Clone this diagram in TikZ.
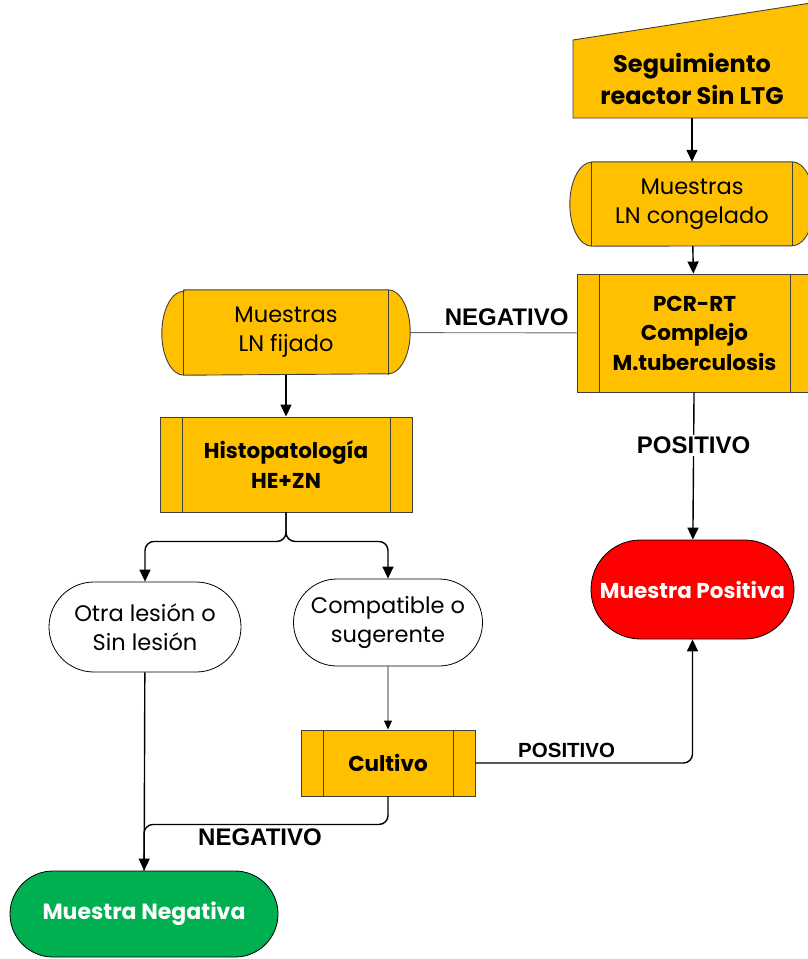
\documentclass[tikz,border=0pt]{standalone}
\usepackage{fontspec}
\setmainfont{Poppins}
\newfontfamily\lblfont{Liberation Sans}
\usetikzlibrary{arrows.meta,shapes.misc,backgrounds}
\definecolor{amber}{HTML}{FFC000}
\definecolor{edge}{HTML}{404040}
\definecolor{posred}{HTML}{FF0000}
\definecolor{neggreen}{HTML}{00B050}
\tikzset{
  procbox/.style={rectangle,draw=edge,fill=amber,line width=0.9pt,align=center,inner sep=0pt,
    font=\bfseries\fontsize{21.5}{29.5}\selectfont,
    path picture={
      \draw[edge,line width=0.9pt]
        ([xshift=22pt]path picture bounding box.north west) -- ([xshift=22pt]path picture bounding box.south west)
        ([xshift=-22pt]path picture bounding box.north east) -- ([xshift=-22pt]path picture bounding box.south east);}},
  drumbox/.style={rectangle,align=center,inner sep=0pt,font=\fontsize{22.5}{29}\selectfont},
  inbox/.style={rectangle,align=center,inner sep=0pt,minimum width=238pt,minimum height=78pt,
    font=\bfseries\fontsize{24}{32}\selectfont},
  endbox/.style={rounded rectangle,draw=black,line width=0.8pt,align=center,inner sep=0pt,
    font=\fontsize{22.5}{29}\selectfont},
  flow/.style={-{Triangle[length=12pt,width=11pt]},line width=1.4pt},
  lbl/.style={font=\lblfont\bfseries\fontsize{24}{26}\selectfont,inner sep=2pt,text=black},
}
\newcommand\drum[1]{%
  \draw[edge,fill=amber,line width=0.9pt]
    ([xshift=22pt]#1.north west) -- ([xshift=-22pt]#1.north east)
    arc[start angle=90,end angle=-90,x radius=22pt,y radius=42pt]
    -- ([xshift=22pt]#1.south west)
    arc[start angle=270,end angle=90,x radius=22pt,y radius=42pt] -- cycle;
  \draw[edge,line width=0.9pt]
    ([xshift=22pt]#1.north west) -- ([xshift=22pt]#1.south west)
    ([xshift=-22pt]#1.north east) -- ([xshift=-22pt]#1.south east);}
\begin{document}
\begin{tikzpicture}[x=1pt,y=-1pt]
      \useasboundingbox (0,0) rectangle (807,959);
      \draw
        (692,79) node[inbox] (seg) {Seguimiento\\reactor Sin LTG}
        (692,204) node[drumbox,minimum width=244pt,minimum height=84pt] (cong) {Muestras\\LN congelado}
        (694.5,333) node[procbox,minimum width=235pt,minimum height=118pt] (pcr) {PCR-RT\\Complejo\\M.tuberculosis}
        (286,332.5) node[drumbox,minimum width=248pt,minimum height=85pt] (fij) {Muestras\\LN fijado}
        (286,464.5) node[procbox,minimum width=252pt,minimum height=95pt] (histo) {Histopatología\\HE+ZN}
        (145,627) node[endbox,fill=white,minimum width=192pt,minimum height=90pt] (otra) {Otra lesión o\\Sin lesión}
        (388,622.5) node[endbox,fill=white,minimum width=189pt,minimum height=87pt] (comp) {Compatible o\\sugerente}
        (388,763) node[procbox,minimum width=174pt,minimum height=66pt] (cult) {Cultivo}
        (692.5,589.5) node[endbox,fill=posred,text=white,font=\bfseries\fontsize{21.5}{29}\selectfont,
          minimum width=203pt,minimum height=99pt] (pos) {Muestra Positiva}
        (144,914) node[endbox,fill=neggreen,text=white,font=\bfseries\fontsize{22}{29}\selectfont,
          minimum width=268pt,minimum height=86pt] (neg) {Muestra Negativa};
      \begin{scope}[on background layer]
        \draw[edge,fill=amber,line width=0.9pt] (573,118) -- (573,40) -- (811,3) -- (811,118) -- cycle;
        \drum{cong}
        \drum{fij}
      \end{scope}
      \begin{scope}[rounded corners=9pt]
        \draw[flow] (seg) -- (cong);
        \draw[flow] (cong) -- (pcr);
        \draw[draw=edge!80,line width=0.9pt] (pcr) -- node[lbl,above=5pt,pos=0.42] {NEGATIVO} (fij);
        \draw[flow] (fij) -- (histo);
        \draw[flow] (histo.south) -- ++(0,29) -| (otra.north);
        \draw[flow] (histo.south) -- ++(0,29) -| (comp.north);
        \draw[-{Triangle[length=9pt,width=8pt]},line width=0.9pt] (comp) -- (cult);
        \draw[flow] (otra) -- (neg);
        \draw[line width=1.4pt] (cult.south) -- ++(0,28) -| (neg.north);
        \node[lbl,fill=white] (negl) at (260,837) {NEGATIVO};
        \draw[flow] (pcr) -- node[lbl,fill=white,pos=0.36] {POSITIVO} (pos);
        \draw[flow] (cult.east) -| node[lbl,above=3pt,pos=0.21,font=\lblfont\bfseries\fontsize{20.5}{22}\selectfont] {POSITIVO} (pos.south);
      \end{scope}
    \end{tikzpicture}
\end{document}
